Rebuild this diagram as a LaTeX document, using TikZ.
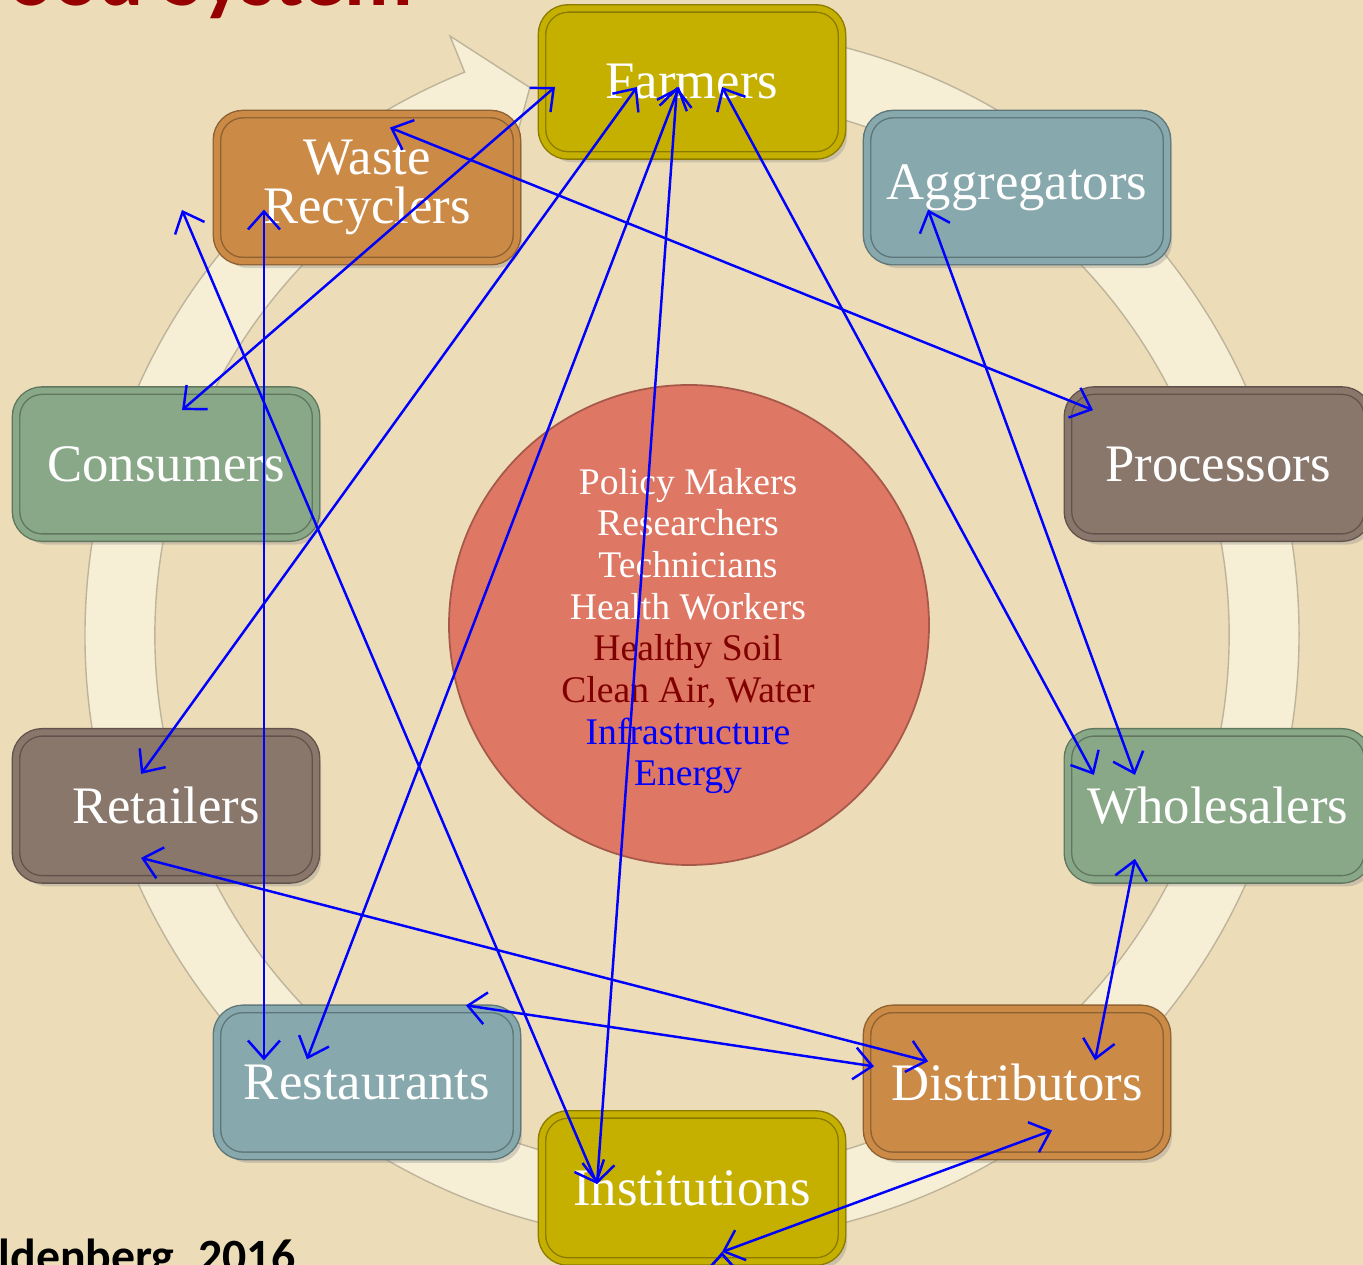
\documentclass[tikz,border=0pt]{standalone}
\usepackage{fontspec}
\setmainfont{Liberation Serif}
\newfontfamily\sansbold{Carlito}
\usetikzlibrary{arrows.meta,shadows}

\definecolor{paper}{RGB}{236,221,184}
\definecolor{ringcol}{RGB}{246,238,213}
\definecolor{ringedge}{RGB}{190,180,155}
\definecolor{olv}{RGB}{197,176,0}
\definecolor{tea}{RGB}{135,168,172}
\definecolor{brn}{RGB}{138,119,108}
\definecolor{grn}{RGB}{137,168,136}
\definecolor{org}{RGB}{203,139,71}
\definecolor{hub}{RGB}{222,119,99}
\definecolor{soil}{RGB}{128,0,0}
\definecolor{titlered}{RGB}{150,0,0}

\begin{document}
\begin{tikzpicture}[
  box/.style={rectangle, rounded corners=0.26cm, minimum width=3.0cm, minimum height=1.47cm,
    fill=#1, draw=#1!70!black, double=#1, double distance=0.6mm, line width=0.4pt,
    text=white, align=center, font=\fontsize{15}{13.9}\selectfont,
    drop shadow={opacity=0.3, shadow xshift=0.5mm, shadow yshift=-0.7mm}},
  flow/.style={draw=blue, line width=0.7pt,
    {Straight Barb[length=1.8mm,width=3.2mm]}-{Straight Barb[length=1.8mm,width=3.2mm]}}
]
\useasboundingbox (0,0) rectangle (13.63,12.65);
\clip (0,0) rectangle (13.63,12.65);
\fill[paper] (0,0) rectangle (13.63,12.65);

% ring arrow
\begin{scope}[shift={(6.92,6.30)}]
  \filldraw[fill=ringcol, draw=ringedge, line width=0.4pt]
    (85:6.07) arc[start angle=85, end angle=-248, radius=6.07]
    -- (112:6.46) -- (106.5:5.71) -- (112:4.96) -- (112:5.37)
    arc[start angle=112, end angle=445, radius=5.37] -- cycle;
\end{scope}

% centre
\node[circle, fill=hub, draw=hub!75!black, line width=0.5pt, minimum size=4.8cm] (core) at (6.89,6.40) {};
\node[align=center, text=white, font=\fontsize{10.7}{11.85}\selectfont] (roles) at (6.88,6.34)
  {Policy Makers\\Researchers\\Technicians\\Health Workers\\
   \textcolor{soil}{Healthy Soil}\\\textcolor{soil}{Clean Air, Water}\\
   \textcolor{blue}{Infrastructure}\\\textcolor{blue}{Energy}};

\begin{scope}[shift={(6.92,6.30)}]
  \node[box=olv] (farm) at (90:5.53) {Farmers};
  \node[box=tea] (aggr) at (54:5.53) {Aggregators};
  \node[box=brn] (proc) at (18:5.53) {Processors};
  \node[box=grn] (whol) at (-18:5.53) {Wholesalers};
  \node[box=org] (dist) at (-54:5.53) {Distributors};
  \node[box=olv] (inst) at (-90:5.53) {Institutions};
  \node[box=tea] (rest) at (-126:5.53) {Restaurants};
  \node[box=brn] (retl) at (-162:5.53) {Retailers};
  \node[box=grn] (cons) at (162:5.53) {Consumers};
  \node[box=org] (wast) at (126:5.53) {Waste\\Recyclers};
\end{scope}

\node[anchor=base east, inner sep=0, text=titlered, font=\sansbold\bfseries\fontsize{24}{28}\selectfont] (title) at (4.14,12.59) {ood System};
\node[anchor=base west, inner sep=0, font=\sansbold\bfseries\fontsize{13.6}{16}\selectfont] (cite) at (-0.02,-0.08) {ldenberg, 2016};

\coordinate (wleft) at (1.82,10.55);

\path[flow]
  ([shift={(-1.37,-0.05)}]farm.center) edge ([shift={(0.16,0.54)}]cons.center)
  ([shift={(-0.55,-0.05)}]farm.center) edge ([shift={(-0.25,0.32)}]retl.center)
  ([shift={(-0.13,-0.05)}]farm.center) edge ([shift={(-0.60,0.23)}]rest.center)
  ([shift={(-0.15,-0.05)}]farm.center) edge ([shift={(-0.95,0.04)}]inst.center)
  ([shift={(0.30,-0.05)}]farm.center) edge ([shift={(-1.24,0.31)}]whol.center)
  ([shift={(-0.89,-0.22)}]aggr.center) edge ([shift={(-0.83,0.31)}]whol.center)
  ([shift={(0.23,0.60)}]wast.center) edge ([shift={(-1.25,0.54)}]proc.center)
  ([shift={(-1.03,-0.22)}]wast.center) edge ([shift={(-1.03,0.22)}]rest.center)
  (wleft) edge ([shift={(-0.95,0.04)}]inst.center)
  ([shift={(-0.25,-0.52)}]retl.center) edge ([shift={(-0.89,0.21)}]dist.center)
  ([shift={(0.99,0.77)}]rest.center) edge ([shift={(-1.43,0.16)}]dist.center)
  ([shift={(-0.83,-0.53)}]whol.center) edge ([shift={(0.78,0.22)}]dist.center)
  ([shift={(0.30,-0.64)}]inst.center) edge ([shift={(0.35,-0.48)}]dist.center)
  ;

\end{tikzpicture}
\end{document}
